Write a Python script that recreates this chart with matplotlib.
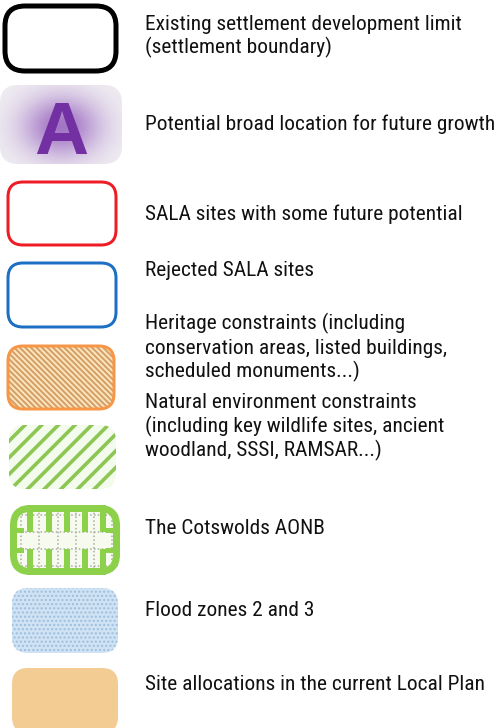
import numpy as np
import matplotlib
matplotlib.use('Agg')
import matplotlib.pyplot as plt
from matplotlib import font_manager
from matplotlib.font_manager import FontProperties
from matplotlib.patches import FancyBboxPatch, Rectangle

# legend labels, one list of lines per symbol
labels = [
    ['Existing settlement development limit', '(settlement boundary)'],
    ['Potential broad location for future growth'],
    ['SALA sites with some future potential'],
    ['Rejected SALA sites'],
    ['Heritage constraints (including', 'conservation areas, listed buildings,', 'scheduled monuments...)'],
    ['Natural environment constraints', '(including key wildlife sites, ancient', 'woodland, SSSI, RAMSAR...)'],
    ['The Cotswolds AONB'],
    ['Flood zones 2 and 3'],
    ['Site allocations in the current Local Plan'],
]
# vertical centre of the first text line for each entry (pixels from top)
label_y = [22, 123, 212, 269, 322, 401, 527, 609, 682]
line_step = 24
max_width = 349  # widest label in the reference, px


def pick_font():
    # look for a narrow sans face (the original uses Arial Narrow)
    prefs = ['Liberation Sans Narrow', 'Roboto Condensed', 'Noto Sans', 'Open Sans',
             'DejaVu Sans', 'Roboto', 'Lato', 'Inter']
    best = None
    for f in font_manager.fontManager.ttflist:
        narrow = ('Narrow' in f.name or 'Condensed' in f.name
                  or 'condensed' in str(f.stretch))
        if not narrow or f.style != 'normal' or f.weight not in (400, 'normal', 'regular'):
            continue
        if 'extra' in str(f.stretch) or 'ultra' in str(f.stretch):
            continue
        score = len(prefs)
        for i, p in enumerate(prefs):
            if f.name.startswith(p):
                score = i
                break
        if best is None or score < best[0]:
            best = (score, f.fname)
    if best:
        return FontProperties(fname=best[1])
    return FontProperties(family='Liberation Sans')


fp = pick_font()

W, H = 499, 728
fig = plt.figure(figsize=(W / 100, H / 100), dpi=100)
ax = fig.add_axes([0, 0, 1, 1])
ax.set_xlim(0, W)
ax.set_ylim(H, 0)
ax.axis('off')

# fit the font size so the widest label matches the reference
probes = [ax.text(0, 0, s, fontproperties=fp, fontsize=10) for ls in labels for s in ls]
fig.canvas.draw()
widest = max(t.get_window_extent().width for t in probes)
fs = 10 * max_width / widest
for t in probes:
    t.remove()

px = 0.72  # points per pixel


def rbox(x0, y0, x1, y1, r, **kw):
    p = FancyBboxPatch((x0, y0), x1 - x0, y1 - y0,
                       boxstyle=f'round,pad=0,rounding_size={r}', **kw)
    ax.add_patch(p)
    return p


def hatched(p, lw):
    if hasattr(p, 'set_hatch_linewidth'):
        p.set_hatch_linewidth(lw)
    else:
        plt.rcParams['hatch.linewidth'] = lw


# 1 settlement boundary
rbox(5, 6, 116, 71, 20, fc='white', ec='black', lw=5 * px)

# 2 broad location: purple glow with letter A
bg = rbox(0, 85, 122, 164, 18, fc='#f0eef2', ec='none')
yy, xx = np.mgrid[85:165, 0:122]
d = np.sqrt(((xx - 61) / 46.0) ** 2 + ((yy - 126) / 36.0) ** 2)
alpha = np.clip(np.exp(-d ** 2 * 1.4), 0, 1) * 0.75
img = np.zeros(xx.shape + (4,))
img[..., 0], img[..., 1], img[..., 2] = 0.54, 0.30, 0.72
img[..., 3] = alpha
im = ax.imshow(img, extent=(0, 122, 165, 85), interpolation='bilinear', zorder=2)
im.set_clip_path(bg)
ax.set_xlim(0, W)
ax.set_ylim(H, 0)
ax.text(61, 154, 'A', ha='center', va='baseline', fontsize=54,
        fontweight='bold', family='Liberation Sans', color='#7230a2', zorder=3)

# 3 SALA sites
rbox(8, 182, 116, 245, 15, fc='white', ec='#ee1c24', lw=3 * px)

# 4 rejected SALA sites
rbox(8, 263, 116, 327, 15, fc='white', ec='#1c6fc2', lw=3 * px)

# 5 heritage (orange hatch)
p = rbox(8, 346, 114, 409, 15, fc='#fde8c0', ec='#d5a06a', lw=0, hatch='\\' * 6)
hatched(p, 1.5)
rbox(8, 346, 114, 409, 15, fc='none', ec='#f79646', lw=3 * px, zorder=3)

# 6 natural environment (green stripes)
p = rbox(9, 425, 116, 489, 16, fc='#f2fbec', ec='#8dc653', lw=0, hatch='//')
hatched(p, 2.6)

# 7 Cotswolds AONB
green = '#8dd04a'
aonb = rbox(10, 505, 120, 575, 20, fc='#f6faef', ec='none')
for yv in [515, 532, 549, 566]:
    ln, = ax.plot([10, 120], [yv, yv], ls=(0, (1, 1.5)), color='#a9aca3', lw=1.1)
    ln.set_clip_path(aonb)
for xv in [21, 39, 58, 76, 94, 112]:
    ln, = ax.plot([xv, xv], [505, 575], ls=(0, (1, 1.5)), color='#a9aca3', lw=1.1)
    ln.set_clip_path(aonb)
for xc in [30, 49, 67, 85, 103]:
    ax.add_patch(Rectangle((xc - 3.4, 505), 6.8, 27, fc=green, ec='none', zorder=3))
    ax.add_patch(Rectangle((xc - 3.4, 549), 6.8, 26, fc=green, ec='none', zorder=3))
for x0 in [10, 106]:
    ax.add_patch(Rectangle((x0, 528), 14, 5, fc=green, ec='none', zorder=3))
    ax.add_patch(Rectangle((x0, 548), 14, 5, fc=green, ec='none', zorder=3))
rbox(13.5, 508.5, 116.5, 571.5, 17, fc='none', ec=green, lw=7 * px, zorder=4)

# 8 flood zones
p = rbox(12, 588, 118, 653, 16, fc='#d0e3f4', ec='#9dbedc', lw=0, hatch='....')
hatched(p, 1.0)

# 9 site allocations
rbox(12, 668, 118, 733, 16, fc='#f3cc94', ec='none')

# labels
for lines, y0 in zip(labels, label_y):
    for i, s in enumerate(lines):
        ax.text(145, y0 + i * line_step + 7.5, s, ha='left', va='baseline',
                fontproperties=fp, fontsize=fs, color='#111111')

fig.savefig('out.png', dpi=100)
